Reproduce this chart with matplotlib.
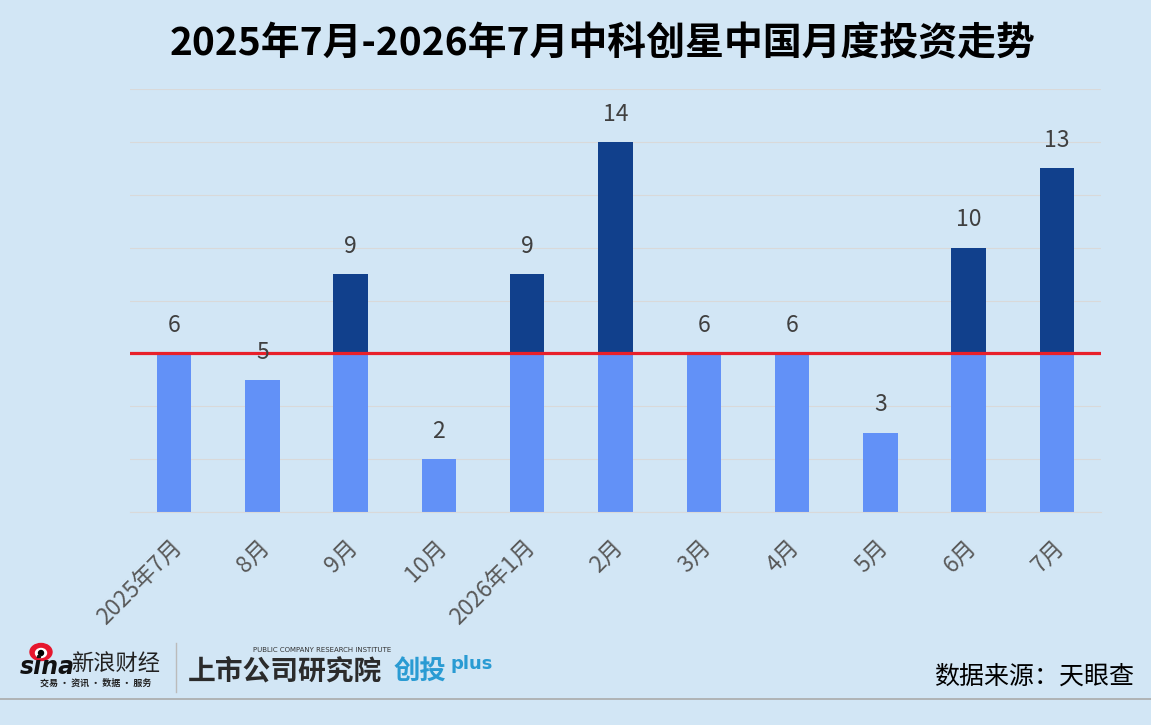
import numpy as np
import matplotlib.pyplot as plt
import matplotlib.transforms as mtransforms
from matplotlib.patches import Ellipse
from matplotlib.lines import Line2D

plt.rcParams['font.family'] = ['Noto Sans CJK SC', 'DejaVu Sans']

# 数据
months = ['2025年7月', '8月', '9月', '10月', '2026年1月', '2月', '3月', '4月', '5月', '6月', '7月']
counts = np.array([6, 5, 9, 2, 9, 14, 6, 6, 3, 10, 13])
baseline = 6  # 红线

bg = '#d2e6f5'
light = '#6291f7'
dark = '#11408c'

lower = np.minimum(counts, baseline)
upper = np.maximum(counts - baseline, 0)

fig = plt.figure(figsize=(11.51, 7.25), dpi=100, facecolor=bg)
ax = fig.add_axes([130 / 1151, 1 - 512 / 725, 971 / 1151, 423 / 725])
ax.set_facecolor(bg)

x = np.arange(len(months))
ax.bar(x, lower, width=0.39, color=light, zorder=2)
ax.bar(x, upper, width=0.39, bottom=lower, color=dark, zorder=2)
ax.axhline(baseline, color='#e8202a', lw=2.3, zorder=3)

for xi, v in zip(x, counts):
    ax.annotate(str(v), (xi, v), xytext=(0, 20), textcoords='offset points',
                ha='center', va='center', fontsize=16.5, color='#404040')

ax.set_xlim(-0.5, len(months) - 0.5)
ax.set_ylim(0, 16)
ax.set_yticks(np.arange(0, 17, 2))
ax.set_yticklabels([])
ax.tick_params(axis='y', length=0)
ax.grid(axis='y', color='#d9d9d9', lw=0.8, zorder=0)
ax.set_xticks(x)
ax.set_xticklabels(months, rotation=45, ha='right', va='top', fontsize=16.5, color='#595959')
ax.tick_params(axis='x', length=0, pad=17)
shift = mtransforms.ScaledTranslation(12 / 100, 0, fig.dpi_scale_trans)
for lbl in ax.get_xticklabels():
    lbl.set_transform(lbl.get_transform() + shift)
for s in ['top', 'right', 'left']:
    ax.spines[s].set_visible(False)
ax.spines['bottom'].set_color('#d9d9d9')

fig.text(0.524, 0.94, '2025年7月-2026年7月中科创星中国月度投资走势',
         ha='center', va='center', fontsize=28, fontweight='bold', color='black')

# 底部标识
fig.text(0.985, 1 - 677 / 725, '数据来源：天眼查', ha='right', va='center',
         fontsize=18, color='black')
fig.add_artist(Line2D([0, 1], [1 - 699 / 725] * 2, color='#aaaaaa', lw=1.2))
fig.add_artist(Line2D([176 / 1151] * 2, [1 - 643 / 725, 1 - 692 / 725],
                      color='#bbbbbb', lw=1))
fig.add_artist(Ellipse((41 / 1151, 1 - 652 / 725), 22 / 1151, 17 / 725,
                       color='#e6162d'))
fig.add_artist(Ellipse((41 / 1151, 1 - 653 / 725), 11 / 1151, 9 / 725,
                       color='white'))
fig.add_artist(Ellipse((41 / 1151, 1 - 653 / 725), 5 / 1151, 5 / 725,
                       color='black'))
fig.text(20 / 1151, 1 - 667 / 725, 'sina', ha='left', va='center', fontsize=17,
         fontweight='bold', fontstyle='italic', color='#111111', family='DejaVu Sans')
fig.text(71 / 1151, 1 - 663 / 725, '新浪财经', ha='left', va='center', fontsize=16,
         color='#222222')
fig.text(40 / 1151, 1 - 683 / 725, '交易 · 资讯 · 数据 · 服务', ha='left', va='center',
         fontsize=6.5, fontweight='bold', color='#222222')
fig.text(253 / 1151, 1 - 650 / 725, 'PUBLIC COMPANY RESEARCH INSTITUTE', ha='left',
         va='center', fontsize=5, color='#333333', family='DejaVu Sans')
fig.text(188 / 1151, 1 - 671 / 725, '上市公司研究院', ha='left', va='center', fontsize=20,
         fontweight='bold', fontstyle='italic', color='#2b2b2b')
fig.text(394 / 1151, 1 - 672 / 725, '创投', ha='left', va='center', fontsize=19,
         fontweight='bold', color='#2a9bd3')
fig.text(450 / 1151, 1 - 664 / 725, 'plus', ha='left', va='center', fontsize=13,
         fontweight='bold', color='#2a9bd3', family='DejaVu Sans')

fig.savefig('out.png', dpi=100, facecolor=bg)
